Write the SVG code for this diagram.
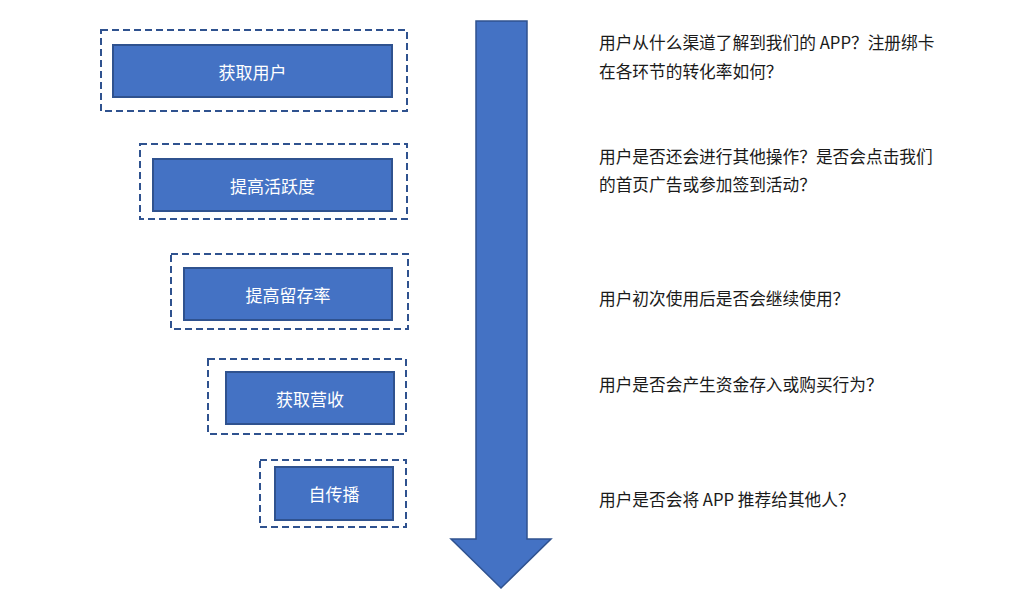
<svg xmlns="http://www.w3.org/2000/svg" width="1016" height="596" viewBox="0 0 1016 596">
<style>
.frame{fill:none;stroke:#2F528F;stroke-width:2;stroke-dasharray:7,4}
.box{fill:#4472C4;stroke:#2F528F;stroke-width:2}
.lbl{font-family:"Noto Sans CJK SC","Noto Sans",sans-serif;font-size:17px;fill:#fff;text-anchor:middle;dominant-baseline:central}
.q{font-family:"Noto Sans CJK SC","Noto Sans",sans-serif;font-size:16.7px;fill:#1a1a1a}
</style>
<rect width="1016" height="596" fill="#fff"/>
<g id="connectors">
<path d="M476 21 H527 V539 H551 L501 588 L451 539 H476 Z" fill="#4472C4" stroke="#2F528F" stroke-width="1.5"/>
</g>
<g id="node1">
<rect class="frame" x="101" y="30" width="306" height="81"/>
<rect class="box" x="113" y="45" width="279" height="52"/>
<text class="lbl" x="252.5" y="71">获取用户</text>
</g>
<g id="node2">
<rect class="frame" x="140" y="144" width="267" height="75"/>
<rect class="box" x="153" y="159" width="239" height="52"/>
<text class="lbl" x="272.5" y="185">提高活跃度</text>
</g>
<g id="node3">
<rect class="frame" x="171" y="254" width="237" height="75"/>
<rect class="box" x="184" y="268" width="208" height="52"/>
<text class="lbl" x="288" y="294">提高留存率</text>
</g>
<g id="node4">
<rect class="frame" x="208" y="359" width="198" height="75"/>
<rect class="box" x="226" y="372" width="168" height="52"/>
<text class="lbl" x="310" y="398">获取营收</text>
</g>
<g id="node5">
<rect class="frame" x="260" y="460" width="146" height="67"/>
<rect class="box" x="275" y="467" width="118" height="53"/>
<text class="lbl" x="334" y="493">自传播</text>
</g>
<g id="notes">
<text class="q" x="599" y="49">用户从什么渠道了解到我们的 APP？注册绑卡</text>
<text class="q" x="599" y="78">在各环节的转化率如何？</text>
<text class="q" x="599" y="163">用户是否还会进行其他操作？是否会点击我们</text>
<text class="q" x="599" y="191">的首页广告或参加签到活动？</text>
<text class="q" x="599" y="305">用户初次使用后是否会继续使用？</text>
<text class="q" x="599" y="391">用户是否会产生资金存入或购买行为？</text>
<text class="q" x="599" y="506">用户是否会将 APP 推荐给其他人？</text>
</g>
</svg>
